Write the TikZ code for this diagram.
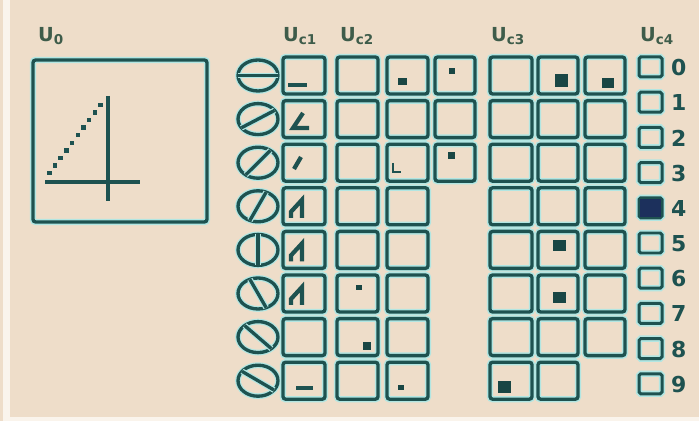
\documentclass[tikz,border=0pt]{standalone}
\usepackage{fontspec}
\setsansfont{DejaVu Sans}
\definecolor{screen}{RGB}{238,221,201}
\definecolor{edge}{RGB}{250,244,236}
\definecolor{boxline}{RGB}{30,82,80}
\definecolor{boxglow}{RGB}{178,230,226}
\definecolor{headtext}{RGB}{62,92,74}
\definecolor{navy}{RGB}{28,48,92}
\tikzset{
  cell/.style={draw=boxline, line width=1.9pt, rounded corners=1.5pt,
    preaction={draw=boxglow, line width=3.6pt}},
  ring/.style={draw=boxline, line width=1.9pt,
    preaction={draw=boxglow, line width=3.3pt}},
  stroke/.style={draw=boxline, line width=2.4pt},
  blob/.style={fill=boxline!85!black},
  head/.style={anchor=west, text=headtext, font=\fontsize{11}{13}\sffamily\bfseries},
  digit/.style={anchor=west, text=boxline, font=\fontsize{12.5}{14}\sffamily\bfseries}
}
\begin{document}
\begin{tikzpicture}[x=0.02cm, y=-0.02cm]
        % \draw[help lines, gray!50, very thin] (0,0) grid[step=50] (699,421);
        \useasboundingbox (0,0) rectangle (699,421);
        \fill[screen] (0,0) rectangle (699,421);
        \fill[edge] (3,0) rectangle (10,421);
        \fill[edge] (10,417) rectangle (699,421);

        % headers
        \node[head] (u0) at (32,36) {U\textsubscript{0}};
        \node[head] (uc1) at (277,36) {U\textsubscript{c1}};
        \node[head] (uc2) at (334,36) {U\textsubscript{c2}};
        \node[head] (uc3) at (485,36) {U\textsubscript{c3}};
        \node[head] (uc4) at (634,36) {U\textsubscript{c4}};

        % big box with the figure
        \draw[cell] (33,60) rectangle (207,222);
        \draw[stroke, line width=2.2pt] (108,96) -- (108,201);
        \draw[stroke, line width=2.2pt] (45,182) -- (140,182);
        \foreach \i in {0,...,9}
          \fill[boxline] ({47+5.7*\i},{171-7.6*\i}) rectangle +(4.5,4.5);

        % rotated rings
        \foreach \a [count=\r from 0] in {0,34,52,66,90,114,132,143} {
          \draw[ring] (258,{75.5+43.6*\r}) ellipse [x radius=20, y radius=15.5];
          \draw[ring] (258,{75.5+43.6*\r}) +(-\a:20 and 15.5) -- +(180-\a:20 and 15.5);
        }

        % cells Uc1, Uc2
        \foreach \xa/\xb in {283/325, 337/378, 387/428}
          \foreach \r in {0,...,7}
            \draw[cell] (\xa,{57+43.6*\r}) rectangle (\xb,{94+43.6*\r});
        \foreach \r in {0,1,2}
          \draw[cell] (435,{57+43.6*\r}) rectangle (475,{94+43.6*\r});

        % cells Uc3
        \foreach \xa/\xb in {490/532, 538/578}
          \foreach \r in {0,...,7}
            \draw[cell] (\xa,{57+43.6*\r}) rectangle (\xb,{94+43.6*\r});
        \foreach \r in {0,...,6}
          \draw[cell] (585,{57+43.6*\r}) rectangle (625,{94+43.6*\r});

        % Uc4 scale
        \foreach \k in {0,...,9} {
          \draw[cell, line width=1.7pt, rounded corners=1pt] (639,{57+35.2*\k}) rectangle (662,{77+35.2*\k});
          \node[digit] (d\k) at (665,{67.5+35.2*\k}) {\k};
        }
        \fill[navy] (640,{58+35.2*4}) rectangle (661,{76+35.2*4});

        % glyphs in Uc1
        \draw[stroke] (288,85) -- (307,85);
        \draw[stroke] (303,113) -- (293,128) -- (309,128);
        \draw[stroke] (294,169) -- (301,157);
        \foreach \r in {3,4,5}
          \draw[stroke] (291,{57+43.6*\r+30}) -- (291,{57+43.6*\r+24})
            -- (302,{57+43.6*\r+12}) -- (302,{57+43.6*\r+30});
        \draw[stroke] (296,388) -- (313,388);

        % dots Uc2
        \fill[blob] (398,78) rectangle (407,85);
        \fill[blob] (449,68) rectangle (455,74);
        \draw[stroke, line width=1.6pt] (393,163) -- (393,172) -- (401,172);
        \fill[blob] (448,152) rectangle (455,159);
        \fill[blob] (356,285) rectangle (362,290);
        \fill[blob] (363,342) rectangle (371,350);
        \fill[blob] (398,385) rectangle (404,390);

        % dots Uc3
        \fill[blob] (555,74) rectangle (568,87);
        \fill[blob] (602,78) rectangle (614,88);
        \fill[blob] (553,240) rectangle (566,251);
        \fill[blob] (553,292) rectangle (566,303);
        \fill[blob] (498,381) rectangle (511,393);
      \end{tikzpicture}
\end{document}
